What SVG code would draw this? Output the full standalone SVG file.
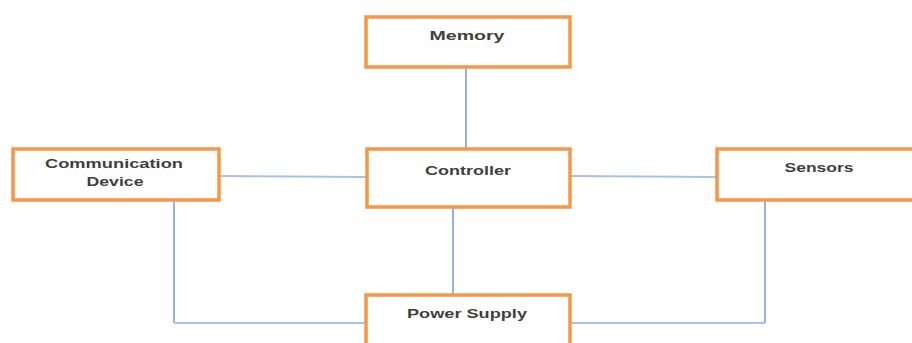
<svg xmlns="http://www.w3.org/2000/svg" width="912" height="343" viewBox="0 0 912 343">
  <style>
    .box { fill: #ffffff; stroke: #f79646; stroke-width: 3.5; }
    .lbl { font-family: "Liberation Sans", Arial, sans-serif; font-size: 13.5px; font-weight: bold; fill: #3f3f3f; text-anchor: middle; }
    .h { stroke: #a9c1e4; stroke-width: 2; fill: none; }
    .v { stroke: #4f7fc0; stroke-width: 1.2; fill: none; }
  </style>
  <rect width="912" height="343" fill="#ffffff"/>

  <!-- links between the blocks -->
  <g id="connectors">
    <line class="v" x1="466" y1="67" x2="466" y2="149"/>
    <line class="h" x1="219" y1="176" x2="367" y2="177"/>
    <line class="h" x1="570" y1="176" x2="717" y2="177"/>
    <line class="v" x1="453" y1="207" x2="453" y2="295"/>
    <polyline class="v" points="174,200 174,323"/>
    <line class="h" x1="174" y1="323" x2="366" y2="323"/>
    <polyline class="v" points="765,200 765,323"/>
    <line class="h" x1="570" y1="323" x2="765" y2="323"/>
  </g>

  <g id="memory">
    <rect class="box" x="366" y="17" width="204" height="50"/>
    <text class="lbl" x="467" y="40" textLength="75" lengthAdjust="spacingAndGlyphs">Memory</text>
  </g>

  <g id="communication-device">
    <rect class="box" x="13" y="149" width="206" height="51"/>
    <text class="lbl" x="114" y="168" textLength="138" lengthAdjust="spacingAndGlyphs">Communication</text>
    <text class="lbl" x="115" y="186" textLength="57" lengthAdjust="spacingAndGlyphs">Device</text>
  </g>

  <g id="controller">
    <rect class="box" x="367" y="149" width="203" height="58"/>
    <text class="lbl" x="468" y="175" textLength="86" lengthAdjust="spacingAndGlyphs">Controller</text>
  </g>

  <g id="sensors">
    <rect class="box" x="717" y="149" width="197" height="51"/>
    <text class="lbl" x="819" y="172" textLength="69" lengthAdjust="spacingAndGlyphs">Sensors</text>
  </g>

  <g id="power-supply">
    <rect class="box" x="366" y="295" width="204" height="60"/>
    <text class="lbl" x="467" y="318" textLength="120" lengthAdjust="spacingAndGlyphs">Power Supply</text>
  </g>
</svg>
